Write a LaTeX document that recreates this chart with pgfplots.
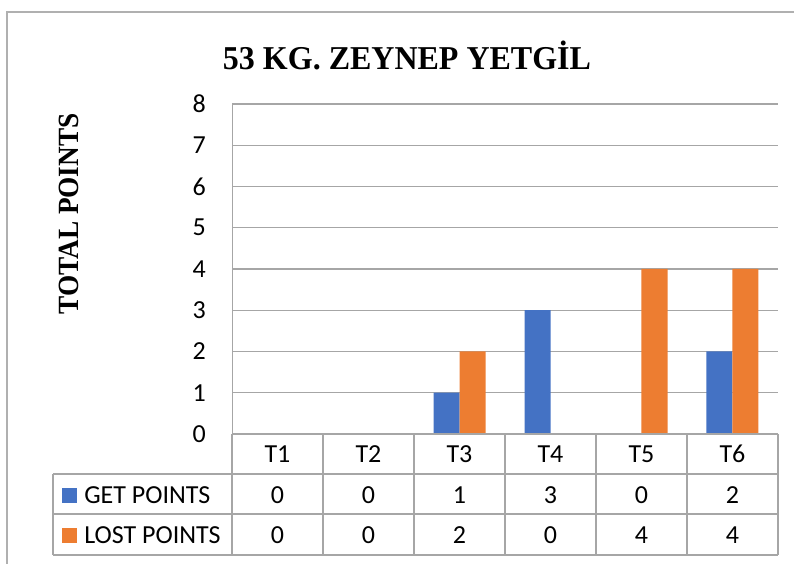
\documentclass[border=0pt]{standalone}
\usepackage{pgfplots}
\pgfplotsset{compat=1.18}
\usepackage{fontspec}
\setmainfont{Carlito}
\newfontfamily\tnr{Liberation Serif}
\definecolor{getc}{HTML}{4472C4}
\definecolor{lostc}{HTML}{ED7D31}
\definecolor{gridc}{HTML}{A6A6A6}
\definecolor{framec}{HTML}{B0B0B0}
\begin{document}
\begin{tikzpicture}[x=0.75pt,y=0.75pt]
\useasboundingbox (0,0) rectangle (794,564);
\begin{scope}
\clip (0,0) rectangle (794,564);
\draw[framec,line width=1.2pt] (7,552) rectangle (820,-36);
\end{scope}
% title and y label
\node[font=\tnr\bfseries\fontsize{25}{28}\selectfont,xscale=0.96] at (407,509) {53 KG. ZEYNEP YETGİL};
\node[font=\tnr\bfseries\fontsize{22}{26}\selectfont,rotate=90,xscale=0.93] at (69,350) {TOTAL POINTS};
\begin{axis}[
  at={(174pt,97.5pt)}, anchor=south west,
  scale only axis, width=409.5pt, height=247.5pt,
  ybar, bar width=19.5pt,
  xmin=0.5, xmax=6.5, ymin=0, ymax=8,
  xtick={1,...,6}, xticklabels={T1,T2,T3,T4,T5,T6},
  ytick={0,...,8},
  axis x line*=bottom, axis y line*=left,
  axis line style={gridc,-},
  major tick length=0pt,
  ymajorgrids, grid style={gridc,line width=0.9pt},
  tick label style={font=\fontsize{19.5}{22}\selectfont},
  /pgf/number format/assume math mode=true,
  yticklabel style={anchor=east,inner sep=0pt,xshift=-19.5pt},
  xticklabel style={anchor=center,inner sep=0pt,yshift=-15pt},
  clip=false,
]
\addplot[fill=getc,draw=none,bar shift=-9.75pt] coordinates {(1,0) (2,0) (3,1) (4,3) (5,0) (6,2)};
\addplot[fill=lostc,draw=none,bar shift=9.75pt] coordinates {(1,0) (2,0) (3,2) (4,0) (5,4) (6,4)};
\end{axis}
% data table
\begin{scope}[gridc,line width=0.9pt]
\draw (232,130) -- (778,130);
\draw (53,90) -- (778,90);
\draw (53,50) -- (778,50);
\draw (53,9) -- (778,9);
\draw (53,90) -- (53,9);
\foreach \x in {232,323,414,505,596,687,778} \draw (\x,130) -- (\x,9);
\end{scope}
\fill[getc] (62,76) rectangle (77,61);
\fill[lostc] (62,36) rectangle (77,21);
\begin{scope}[font=\fontsize{19.5}{22}\selectfont]
\node[anchor=west,inner sep=0pt] at (84,69) {GET POINTS};
\node[anchor=west,inner sep=0pt] at (84,29) {LOST POINTS};
\foreach \v [count=\i] in {0,0,1,3,0,2} \node at (186.5+91*\i,69) {\v};
\foreach \v [count=\i] in {0,0,2,0,4,4} \node at (186.5+91*\i,29) {\v};
\end{scope}
\end{tikzpicture}
\end{document}
